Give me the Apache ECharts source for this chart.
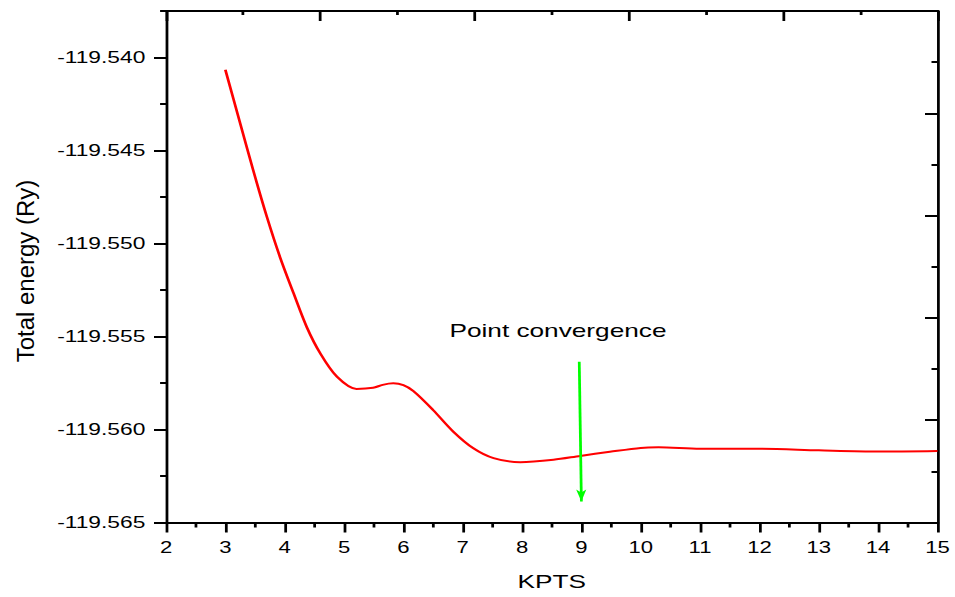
<!DOCTYPE html>
<html>
<head>
<meta charset="utf-8">
<title>Total energy vs KPTS</title>
<script src="https://cdn.jsdelivr.net/npm/echarts@6/dist/echarts.min.js"></script>
<style>
  html, body { margin: 0; padding: 0; background: #fff; overflow: hidden; }
  /* the plot is laid out on a narrower canvas and widened, giving the wide lettering of the original export */
  #chart { width: 692px; height: 597px; transform: scaleX(1.38); transform-origin: 0 0; }
</style>
</head>
<body>
<div id="chart"></div>
<script>
// k-point grid size and converged total energy (Ry)
const kpts = [3.0, 3.25, 3.47, 3.7, 3.92, 4.15, 4.37, 4.6, 4.88, 5.21, 5.49, 5.65, 5.83, 6.0, 6.17,
              6.5, 6.84, 7.18, 7.52, 7.97, 8.53, 8.98, 9.48, 10.0, 10.3, 11, 12, 13, 14, 15];
const energy = [-119.54066, -119.54354, -119.54607, -119.54857, -119.55072, -119.55268,
                -119.55448, -119.55591, -119.55716, -119.55782, -119.55776, -119.55760,
                -119.55752, -119.55762, -119.55794, -119.55895, -119.56011, -119.56101,
                -119.56154, -119.56176, -119.56163, -119.56142, -119.56120, -119.56099,
                -119.56096, -119.56104, -119.56104, -119.56112, -119.56118, -119.56115];

// axis ranges
const xRange = [2, 15];
const yRange = [-119.565, -119.5375];
const yStep = 0.005;
const xTitle = 'KPTS';
const yTitle = 'Total energy (Ry)';

// annotation: arrow pointing at the chosen grid and its caption
const arrowFrom = [8.964, -119.55636];
const arrowTo = [9.0, -119.56387];
const captionAt = [8.605, -119.55466];
const captionText = 'Point convergence';

const FONT = "'Liberation Sans', Arial, sans-serif";
const black = '#000';

const chart = echarts.init(document.getElementById('chart'), null, { renderer: 'svg' });

// unlabelled frame axes (top and right) with inward ticks
function frameAxis(position, tickLen, minorLen) {
  return {
    type: 'value', position: position,
    min: 0, max: 5, interval: 1,
    axisLine: { show: true, onZero: false, lineStyle: { color: black, width: 2 } },
    axisTick: { show: true, inside: true, length: tickLen, lineStyle: { color: black, width: 2 } },
    minorTick: { show: true, splitNumber: 2, length: minorLen, lineStyle: { color: black, width: 2 } },
    axisLabel: { show: false },
    splitLine: { show: false }
  };
}

chart.setOption({
  animation: false,
  backgroundColor: '#fff',
  grid: { left: 120.3, right: 12.7, top: 11, bottom: 74.5 },
  xAxis: [
    {
      type: 'value', position: 'bottom',
      min: xRange[0], max: xRange[1], interval: 1,
      name: xTitle, nameLocation: 'middle', nameGap: 49,
      nameTextStyle: { color: black, fontSize: 19, fontFamily: FONT },
      axisLine: { show: true, onZero: false, lineStyle: { color: black, width: 2 } },
      axisTick: { show: true, length: 10, lineStyle: { color: black, width: 2 } },
      minorTick: { show: true, splitNumber: 2, length: 5, lineStyle: { color: black, width: 2 } },
      axisLabel: { color: black, fontSize: 16, fontFamily: FONT, margin: 17 },
      splitLine: { show: false }
    },
    frameAxis('top', 10, 4)
  ],
  yAxis: [
    {
      type: 'value', position: 'left',
      min: yRange[0], max: yRange[1], interval: yStep,
      axisLine: { show: true, onZero: false, lineStyle: { color: black, width: 2 } },
      axisTick: { show: true, length: 8.7, lineStyle: { color: black, width: 2 } },
      minorTick: { show: false },
      axisLabel: {
        color: black, fontSize: 16.5, fontFamily: FONT, margin: 15,
        showMaxLabel: false,
        formatter: v => v.toFixed(3)
      },
      splitLine: { show: false }
    },
    frameAxis('right', 9, 4.3),
    // half-step ticks on the left edge
    {
      type: 'value', position: 'left',
      min: yRange[0], max: yRange[1], interval: yStep / 2,
      axisLine: { show: false, onZero: false },
      axisTick: { show: true, length: 4.3, lineStyle: { color: black, width: 2 } },
      axisLabel: { show: false },
      splitLine: { show: false }
    }
  ],
  // vertical axis title, drawn upright-narrow so it keeps its proportions after widening
  graphic: [
    {
      type: 'text',
      x: 19.2, y: 271,
      rotation: Math.PI / 2,
      scaleY: 0.7,
      silent: true,
      style: {
        text: yTitle,
        fill: black,
        fontSize: 24,
        fontFamily: FONT,
        align: 'center',
        verticalAlign: 'middle'
      }
    }
  ],
  series: [
    {
      type: 'line',
      xAxisIndex: 0, yAxisIndex: 0,
      data: kpts.map((k, i) => [k, energy[i]]),
      smooth: 0.3,
      symbol: 'none',
      lineStyle: { color: '#ff0000', width: 2 },
      markLine: {
        silent: true,
        symbol: ['none', 'arrow'],
        symbolSize: [5.5, 12],
        label: { show: false },
        lineStyle: { color: '#00ff00', width: 2, type: 'solid' },
        data: [[{ coord: arrowFrom }, { coord: arrowTo }]]
      },
      markPoint: {
        silent: true,
        symbol: 'circle',
        symbolSize: 0,
        label: {
          show: true, position: 'inside', formatter: captionText,
          color: black, fontSize: 19, fontFamily: FONT
        },
        data: [{ coord: captionAt }]
      }
    }
  ]
});
</script>
</body>
</html>
